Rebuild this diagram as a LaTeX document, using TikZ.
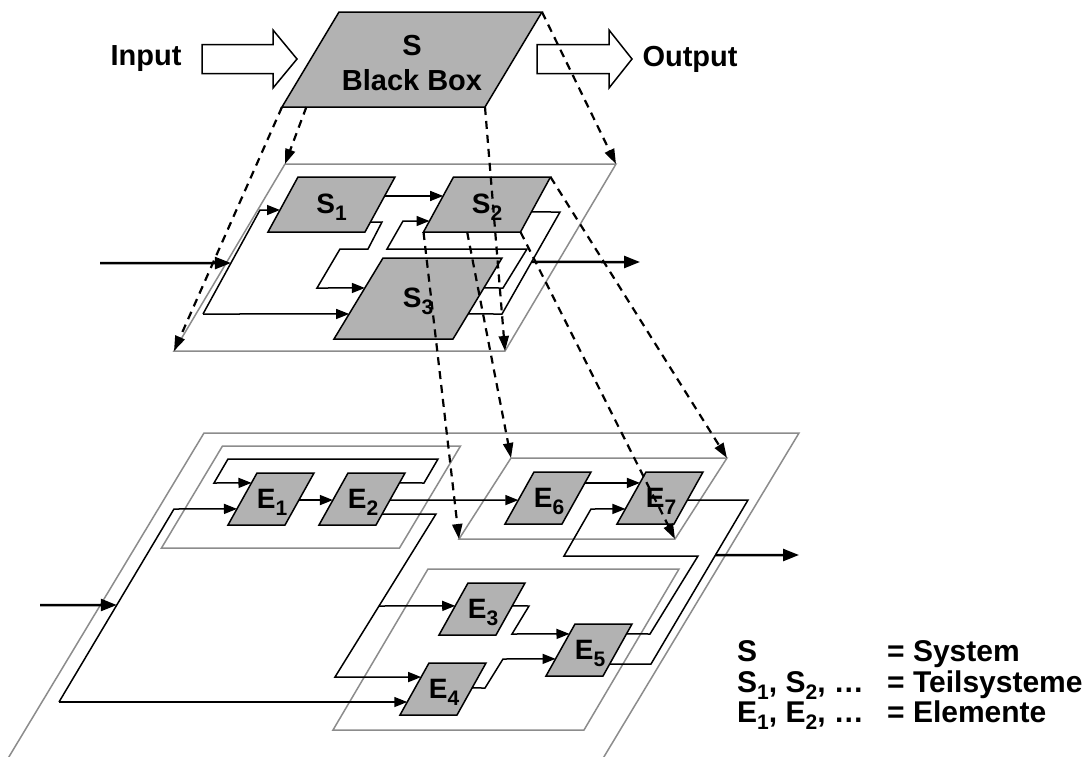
\documentclass[tikz,border=0pt]{standalone}
\usepackage{fontspec}
\setmainfont{Liberation Sans}
\usetikzlibrary{arrows.meta,calc}

\definecolor{boxfill}{RGB}{178,178,178}
\definecolor{framegray}{RGB}{140,140,140}

% slanted box: style, name, centre x, centre y, width, height, horizontal offset of top edge
\newcommand\slantbox[7]{%
  \coordinate (#2-bl) at ({#3-#5/2-#7/2},{#4+#6/2});
  \coordinate (#2-br) at ({#3+#5/2-#7/2},{#4+#6/2});
  \coordinate (#2-tr) at ({#3+#5/2+#7/2},{#4-#6/2});
  \coordinate (#2-tl) at ({#3-#5/2+#7/2},{#4-#6/2});
  \draw[#1] (#2-bl) -- (#2-br) -- (#2-tr) -- (#2-tl) -- cycle;
}
% letter with a lowered index
\newcommand\sublab[2]{#1\raisebox{-0.25em}{\fontsize{21}{21}\selectfont #2}}

\tikzset{
  frame/.style={draw=framegray, line width=1.5pt},
  blk/.style={draw=black, fill=boxfill, line width=1.5pt},
  conn/.style={draw=black, line width=1.5pt},
  arr/.style={-{Triangle[length=13pt,width=10pt]}},
  ioline/.style={draw=black, line width=2.5pt, -{Triangle[length=16pt,width=12pt]}},
  proj/.style={draw=black, line width=2.2pt, dash pattern=on 8pt off 6pt,
               -{Triangle[length=15pt,width=10pt]}},
  lbl/.style={font=\fontsize{28}{30}\selectfont\bfseries, inner sep=0pt},
  big/.style={font=\fontsize{29}{32}\selectfont\bfseries, inner sep=0pt},
  key/.style={font=\fontsize{30}{32}\selectfont\bfseries, inner sep=0pt, anchor=base west},
  hollow/.style={draw=black, fill=white, line width=1.5pt, line join=miter},
}

\begin{document}
\begin{tikzpicture}[x=1pt, y=-1pt]
\path[use as bounding box, fill=white] (0,0) rectangle (1090,756);
\clip (0,0) rectangle (1090,756);

% ---------- black box level ----------
\draw[hollow] (202,44.5) -- (273,44.5) -- (273,30) -- (297,59) -- (273,88) -- (273,73.5) -- (202,73.5) -- cycle;
\draw[hollow] (537,44.5) -- (609,44.5) -- (609,30) -- (632,59) -- (609,88) -- (609,73.5) -- (537,73.5) -- cycle;
\slantbox{blk}{BB}{412}{59.5}{203}{95}{57}
\node[big] (tIn) at (146,59) {Input};
\node[big] (tOut) at (690,59) {Output};
\node[big] (tS) at (412,46) {S};
\node[big] (tBB) at (412,80) {Black Box};

% ---------- subsystem level ----------
\slantbox{frame}{MF}{395}{257.5}{331}{187}{111}
\slantbox{blk}{S1}{331.5}{204.5}{97}{55}{30}
\slantbox{blk}{S2}{487}{204.5}{97}{55}{30}
\slantbox{blk}{S3}{418}{298.5}{119}{81}{49}

\coordinate (inM) at (100,263);
\coordinate (jm1) at (203,314);
\coordinate (jm2) at (260,210);
\coordinate (bm1) at (502,314);
\coordinate (bm2) at (560,212);
\coordinate (outM) at (640,262);

\draw[ioline] (inM) -- ($(jm1)!0.49!(jm2)$);
\draw[conn,arr] (jm1) -- (jm2) -- ($(S1-bl)!0.4!(S1-tl)$);
\draw[conn,arr] (jm1) -- ($(S3-bl)!0.309!(S3-tl)$);
\draw[conn,arr] ($(S1-br)!0.655!(S1-tr)$) -- ($(S2-bl)!0.655!(S2-tl)$);
\draw[conn,arr] ($(S1-br)!0.18!(S1-tr)$) -- (382,222) -- (368,249) -- (340,249) -- (317,288)
   -- ($(S3-bl)!0.63!(S3-tl)$);
\draw[conn] ($(S3-br)!0.309!(S3-tr)$) -- (bm1) -- (bm2) -- ($(S2-br)!0.364!(S2-tr)$);
\draw[conn,arr] ($(S3-br)!0.63!(S3-tr)$) -- (503,288) -- (527,249) -- (387,249) -- (403,221)
   -- ($(S2-bl)!0.2!(S2-tl)$);
\draw[ioline] ($(bm1)!0.51!(bm2)$) -- (outM);

% ---------- element level ----------
\slantbox{frame}{BF}{400}{601.5}{595}{337}{203}
\slantbox{frame}{F1}{311}{497}{238}{102}{61}
\slantbox{frame}{F2}{593}{498.5}{216}{81}{52}
\slantbox{frame}{F3}{506}{649.5}{251}{161}{95}

\slantbox{blk}{E1}{271}{499}{57}{52}{29}
\slantbox{blk}{E2}{362}{499}{57}{52}{29}
\slantbox{blk}{E6}{548}{498}{57}{52}{29}
\slantbox{blk}{E7}{660}{498}{57}{52}{29}
\slantbox{blk}{E3}{482}{609}{57}{52}{29}
\slantbox{blk}{E4}{443}{689}{57}{52}{29}
\slantbox{blk}{E5}{589}{650}{57}{52}{29}

\coordinate (inB) at (40,605);
\coordinate (jb1) at (174,509);
\coordinate (jb2) at (59,702);
\coordinate (bj1) at (436,514);
\coordinate (bj2) at (335,677);
\coordinate (oj1) at (651,664);
\coordinate (oj2) at (748,500);
\coordinate (outB) at (799,555);

\draw[conn,arr] ($(E2-br)!0.81!(E2-tr)$) -- (424,483) -- (438,459) -- (228,459) -- (214,483)
   -- ($(E1-bl)!0.81!(E1-tl)$);
\draw[conn,arr] ($(E1-br)!0.48!(E1-tr)$) -- ($(E2-bl)!0.48!(E2-tl)$);
\draw[ioline] (inB) -- ($(jb2)!0.5026!(jb1)$);
\draw[conn,arr] (jb2) -- (jb1) -- ($(E1-bl)!0.31!(E1-tl)$);
\draw[conn,arr] (jb2) -- ($(E4-bl)!0.25!(E4-tl)$);
\draw[conn,arr] ($(E2-br)!0.48!(E2-tr)$) -- ($(E6-bl)!0.46!(E6-tl)$);
\draw[conn,arr] ($(E2-br)!0.21!(E2-tr)$) -- (bj1) -- (bj2) -- ($(E4-bl)!0.73!(E4-tl)$);
\draw[conn,arr] ($(bj1)!0.5644!(bj2)$) -- ($(E3-bl)!0.56!(E3-tl)$);
\draw[conn,arr] ($(E6-br)!0.79!(E6-tr)$) -- ($(E7-bl)!0.79!(E7-tl)$);
\draw[conn,arr] ($(E3-br)!0.56!(E3-tr)$) -- (529,606) -- (512,634) -- ($(E5-bl)!0.81!(E5-tl)$);
\draw[conn,arr] ($(E4-br)!0.52!(E4-tr)$) -- (485,688) -- (503,659) -- ($(E5-bl)!0.33!(E5-tl)$);
\draw[conn,arr] ($(E5-br)!0.81!(E5-tr)$) -- (650,634) -- (698,556) -- (564,556) -- (591,509)
   -- ($(E7-bl)!0.29!(E7-tl)$);
\draw[conn] ($(E5-br)!0.23!(E5-tr)$) -- (oj1) -- (oj2) -- ($(E7-br)!0.46!(E7-tr)$);
\draw[ioline] ($(oj1)!0.6646!(oj2)$) -- (outB);

% ---------- projections between levels ----------
\draw[proj] (BB-bl) -- (MF-bl);
\draw[proj] ($(BB-bl)!0.12!(BB-br)$) -- (MF-tl);
\draw[proj] (BB-br) -- (MF-br);
\draw[proj] (BB-tr) -- (MF-tr);
\draw[proj] (S2-bl) -- (F2-bl);
\draw[proj] ($(S2-bl)!0.45!(S2-br)$) -- (F2-tl);
\draw[proj] (S2-br) -- (F2-br);
\draw[proj] (S2-tr) -- (F2-tr);

% ---------- labels ----------
\node[lbl] (S1) at (331.5,207) {\sublab{S}{1}};
\node[lbl] (S2) at (487,207) {\sublab{S}{2}};
\node[lbl] (S3) at (418,301) {\sublab{S}{3}};
\node[lbl] (E1) at (272,502) {\sublab{E}{1}};
\node[lbl] (E2) at (363,502) {\sublab{E}{2}};
\node[lbl] (E6) at (549,501) {\sublab{E}{6}};
\node[lbl] (E7) at (661,501) {\sublab{E}{7}};
\node[lbl] (E3) at (483,612) {\sublab{E}{3}};
\node[lbl] (E4) at (444,692) {\sublab{E}{4}};
\node[lbl] (E5) at (590,653) {\sublab{E}{5}};

% ---------- legend ----------
\node[key] (k1) at (737,661) {S};
\node[key] (k2) at (737,692) {\sublab{S}{1}, \sublab{S}{2}, …};
\node[key] (k3) at (737,722) {\sublab{E}{1}, \sublab{E}{2}, …};
\node[key] (v1) at (887,661) {= System};
\node[key] (v2) at (887,692) {= Teilsysteme};
\node[key] (v3) at (887,722) {= Elemente};
\end{tikzpicture}
\end{document}
